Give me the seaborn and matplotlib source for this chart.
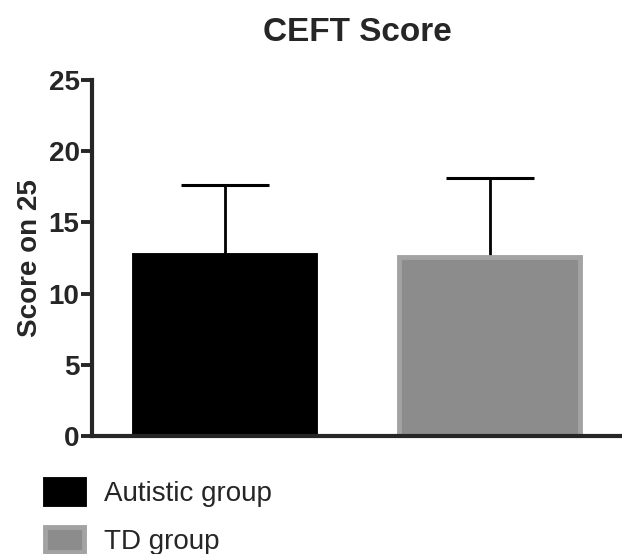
import matplotlib
matplotlib.use("Agg")
import matplotlib.pyplot as plt
from matplotlib.patches import Patch
import seaborn as sns
import pandas as pd

groups = ["Autistic group", "TD group"]
means = [12.7, 12.6]
sds = [4.9, 5.5]
fills = ["#000000", "#8c8c8c"]
edges = ["#000000", "#a3a3a3"]
yticks = [0, 5, 10, 15, 20, 25]

sns.set_theme(style="ticks")
plt.rcParams["font.family"] = ["Liberation Sans", "DejaVu Sans"]

df = pd.DataFrame({"group": groups, "score": means})

fig = plt.figure(figsize=(6.22, 5.54), dpi=100)
ax = fig.add_axes([92 / 622, 118 / 554, 1 - 92 / 622, 356 / 554])

sns.barplot(data=df, x="group", y="score", hue="group", palette=fills,
            width=0.685, legend=False, errorbar=None, ax=ax, zorder=2)
for patch, ec in zip(ax.patches, edges):
    patch.set_edgecolor(ec)
    patch.set_linewidth(3.5)

ax.errorbar(range(len(groups)), means, yerr=[[0] * len(sds), sds],
            fmt="none", ecolor="black", elinewidth=2, capsize=32,
            capthick=2.2, zorder=1)

ax.set_xlim(-0.5, 1.5)
ax.set_ylim(0, 25)
ax.set_yticks(yticks)
ax.set_yticklabels([str(t) for t in yticks], fontsize=20, fontweight="bold")
ax.set_xticks([])
ax.set_xlabel("")
ax.set_ylabel("Score on 25", fontsize=20, fontweight="bold", labelpad=4)
ax.set_title("CEFT Score", fontsize=24, fontweight="bold", pad=28)
ax.tick_params(axis="y", width=2.8, length=8, pad=1)
for side in ["left", "bottom"]:
    ax.spines[side].set_linewidth(3)
sns.despine(ax=ax)

handles = [Patch(facecolor=f, edgecolor=e, linewidth=3.5) for f, e in zip(fills, edges)]
fig.legend(handles, groups, loc="lower left", bbox_to_anchor=(42 / 622, -4 / 554),
           frameon=False, fontsize=20, handlelength=1.4, handleheight=1.0,
           handletextpad=0.75, labelspacing=0.72, borderaxespad=0, borderpad=0.1)

fig.savefig("out.png", dpi=100)
